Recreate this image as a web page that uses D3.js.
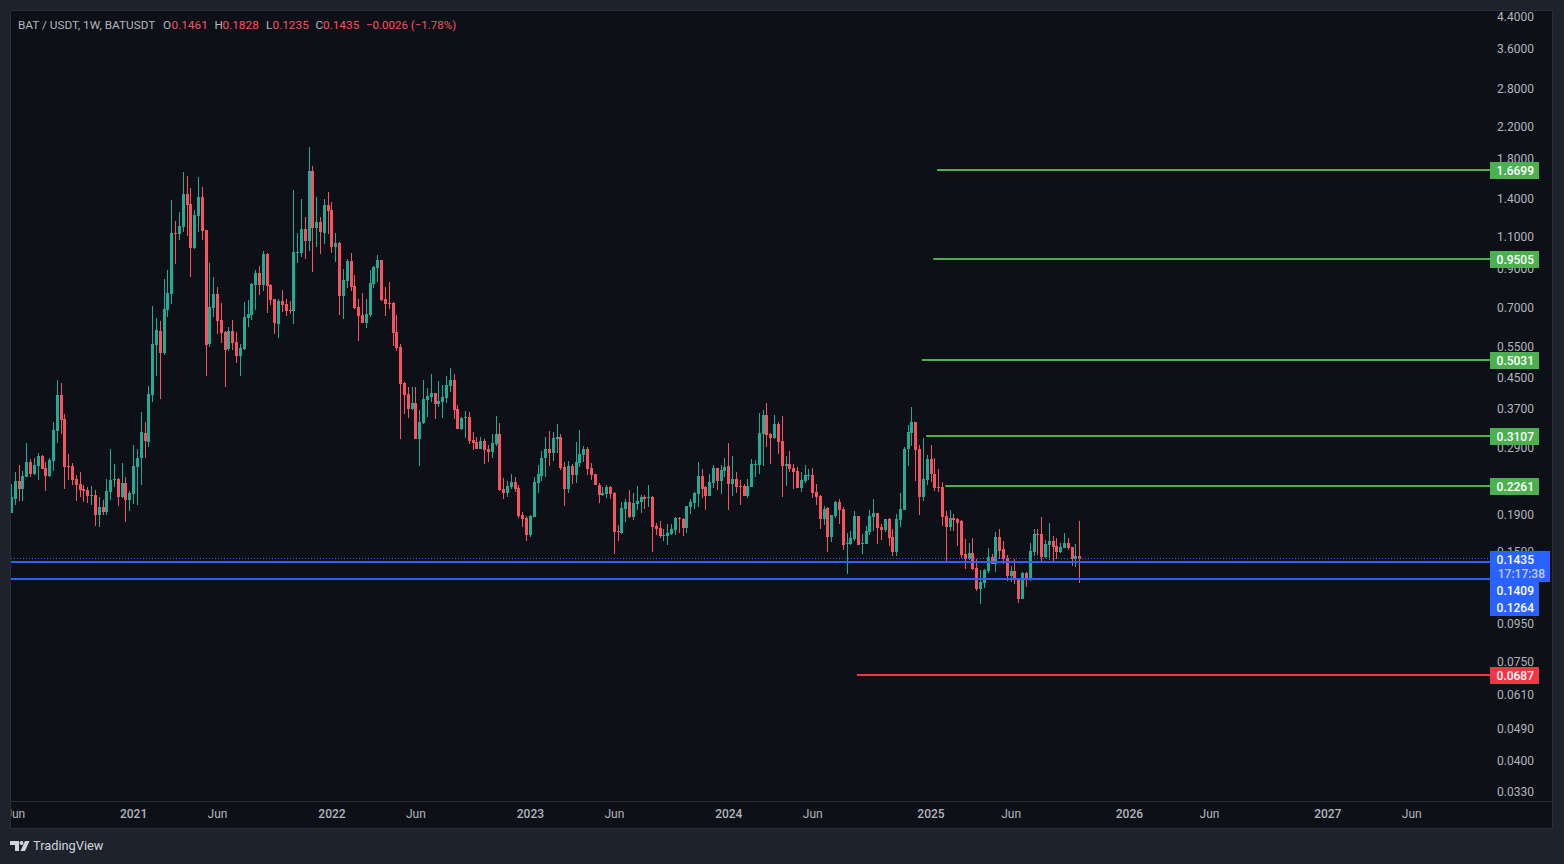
<!DOCTYPE html>
<html>
<head>
<meta charset="utf-8">
<title>BAT / USDT</title>
<script src="https://cdn.jsdelivr.net/npm/d3@7"></script>
<style>
html, body { margin: 0; padding: 0; background: #1e222d; overflow: hidden; }
text { font-family: Roboto, sans-serif; }
</style>
</head>
<body>
<svg id="chart" width="1564" height="864"></svg>
<script>
"use strict";

// Weekly candles, first bar is the week of 2020-05-25.
var first_bar = new Date(Date.UTC(2020, 4, 25));
var last_bar = new Date(Date.UTC(2025, 9, 6));

var opens = [
  .1914,.209,.234,.223,.240,.264,.2445,.2575,.274,.254,
  .2415,.266,.321,.403,.347,.2575,.2575,.237,.230,.223,
  .2214,.213,.2145,.189,.199,.1926,.2186,.2358,.237,.212,
  .231,.2078,.216,.256,.271,.317,.2997,.403,.553,.604,
  .526,.690,.764,1.122,1.115,1.165,1.435,1.347,1.020,1.249,
  1.408,1.143,.557,.699,.764,.648,.601,.539,.604,.564,
  .516,.539,.656,.669,.808,.872,.808,.983,.808,.740,
  .632,.731,.717,.690,.686,.989,.989,1.151,1.066,1.659,
  1.158,1.203,1.122,1.339,1.297,1.027,1.053,.754,.829,.940,
  .803,.703,.669,.636,.669,.813,.900,.946,.740,.721,
  .721,.601,.546,.435,.406,.369,.383,.305,.338,.391,
  .398,.408,.381,.386,.396,.427,.443,.369,.326,.349,
  .351,.3035,.2997,.288,.3016,.287,.281,.2959,.315,.223,
  .217,.2261,.2327,.224,.189,.1856,.1667,.1868,.231,.2415,
  .271,.287,.2795,.305,.3107,.256,.223,.2575,.243,.2625,
  .276,.288,.254,.2445,.2285,.2145,.216,.2261,.217,.171,
  .1688,.196,.205,.1868,.2026,.205,.212,.2105,.212,.1764,
  .174,.1656,.1656,.1677,.172,.1856,.1844,.174,.199,.204,
  .216,.2415,.2261,.213,.231,.254,.234,.2495,.2575,.230,
  .237,.227,.227,.213,.2261,.259,.259,.315,.356,.315,
  .307,.336,.3016,.2575,.261,.254,.2495,.224,.234,.2415,
  .243,.2186,.213,.1844,.1975,.1646,.188,.205,.196,.1575,
  .1575,.1625,.188,.1575,.1575,.170,.1868,.1914,.1753,.172,
  .1844,.1646,.1497,.1832,.1951,.287,.317,.340,.287,.212,
  .2358,.269,.246,.2261,.2261,.188,.1753,.1856,.1844,.182,
  .1478,.1432,.1487,.1353,.1185,.1231,.1328,.145,.1388,.1646,
  .1526,.1441,.1287,.1328,.127,.1112,.1311,.1254,.1497,.1677,
  .1677,.145,.1565,.1605,.1555,.1497,.1535,.1585,.1545,.1432,.1461
];
var highs = [
  .230,.248,.259,.2495,.2978,.269,.272,.2795,.276,.264,
  .271,.340,.443,.435,.358,.278,.2625,.243,.248,.2285,
  .2261,.227,.2214,.212,.2078,.237,.288,.261,.2385,.2625,
  .240,.220,.294,.287,.362,.340,.427,.708,.656,.644,
  .839,.888,1.382,1.210,1.281,1.649,1.608,1.491,1.297,1.598,
  1.500,1.143,.928,.850,.798,.721,.604,.620,.648,.601,
  .557,.726,.735,.818,.888,.911,1.001,.989,.813,.740,
  .740,.783,.740,.731,1.472,1.122,1.391,1.241,1.930,1.713,
  1.408,1.241,1.391,1.453,1.365,1.122,1.060,.894,.952,.989,
  .861,.740,.768,.740,.888,.911,.977,.946,.798,.824,
  .726,.669,.557,.438,.424,.424,.424,.367,.443,.421,
  .461,.408,.440,.429,.455,.479,.461,.379,.351,.365,
  .362,.319,.3107,.3107,.305,.294,.315,.353,.338,.2385,
  .234,.2445,.240,.2285,.1926,.188,.189,.240,.259,.283,
  .3107,.321,.319,.336,.315,.264,.266,.261,.2997,.323,
  .292,.290,.2625,.246,.231,.2261,.2285,.227,.2186,.1775,
  .205,.209,.2214,.217,.227,.2145,.2145,.2285,.213,.180,
  .182,.173,.1786,.1786,.1868,.1868,.1856,.200,.209,.2186,
  .264,.2525,.227,.246,.259,.254,.259,.272,.2978,.274,
  .248,.2358,.230,.237,.269,.2675,.360,.367,.383,.317,
  .356,.340,.353,.274,.283,.261,.256,.248,.259,.2525,
  .254,.230,.2145,.200,.199,.189,.2065,.209,.199,.1688,
  .171,.194,.188,.1677,.1764,.1951,.209,.1914,.1786,.1844,
  .1856,.173,.190,.217,.290,.334,.374,.340,.294,.307,
  .276,.294,.271,.2525,.2327,.194,.1951,.190,.1856,.1832,
  .1625,.1585,.1635,.1432,.1336,.1345,.1535,.1478,.170,.173,
  .1605,.1469,.137,.1432,.127,.132,.132,.1585,.173,.173,
  .1868,.1615,.180,.1656,.1635,.1585,.1688,.1635,.1545,.1575,.1828
];
var lows = [
  .1914,.201,.2065,.2065,.240,.240,.243,.2358,.2525,.220,
  .240,.2495,.2978,.315,.223,.2358,.2285,.2065,.212,.205,
  .204,.201,.1764,.1753,.189,.189,.2078,.2261,.200,.2105,
  .181,.194,.2026,.201,.2285,.271,.290,.386,.455,.393,
  .519,.660,.717,.923,1.073,1.129,1.101,.850,1.014,1.129,
  1.073,.455,.546,.660,.593,.560,.424,.533,.536,.494,
  .455,.536,.620,.648,.690,.759,.778,.677,.712,.593,
  .578,.682,.665,.673,.632,.928,.964,.952,1.001,.877,
  1.027,.983,1.046,1.115,.989,.934,.669,.652,.793,.778,
  .695,.567,.636,.616,.660,.793,.824,.731,.665,.695,
  .550,.533,.305,.358,.349,.367,.305,.2575,.336,.351,
  .386,.347,.374,.349,.383,.413,.347,.326,.323,.307,
  .2959,.285,.287,.287,.261,.264,.271,.292,.220,.209,
  .212,.223,.2186,.1856,.1753,.1605,.1646,.1868,.217,.234,
  .240,.2575,.266,.2795,.251,.200,.217,.230,.231,.256,
  .264,.243,.2358,.2285,.204,.213,.2105,.209,.1478,.1605,
  .1677,.181,.1856,.1832,.1951,.1914,.196,.199,.1497,.1667,
  .1635,.1605,.1565,.1667,.1667,.1688,.1656,.1688,.190,.196,
  .199,.2105,.1951,.213,.224,.2214,.216,.240,.1951,.213,
  .217,.201,.213,.2105,.2261,.240,.2445,.2575,.290,.261,
  .305,.278,.212,.227,.248,.223,.224,.2186,.231,.2358,
  .2105,.201,.173,.1775,.1497,.1595,.1856,.1786,.1516,.1303,
  .1565,.1605,.1565,.1478,.1575,.1667,.171,.1575,.1615,.170,
  .1555,.146,.146,.1753,.1951,.2575,.292,.234,.189,.2065,
  .2285,.2327,.220,.2186,.1764,.1414,.171,.171,.1555,.1441,
  .1345,.1423,.1336,.117,.1077,.1192,.1311,.1388,.132,.1432,
  .1388,.1246,.1239,.1223,.1084,.1112,.12,.1246,.146,.1469,
  .1414,.1441,.1423,.1414,.1432,.1487,.1535,.1516,.137,.1362,.1235
];
var closes = [
  .212,.234,.223,.2415,.264,.2445,.259,.274,.2525,.2415,
  .2675,.323,.403,.344,.256,.256,.2358,.2285,.2214,.220,
  .213,.2145,.189,.199,.1926,.220,.2358,.237,.212,.231,
  .2078,.217,.2575,.272,.319,.3016,.406,.557,.608,.526,
  .695,.768,1.122,1.115,1.173,1.435,1.339,1.020,1.257,1.408,
  1.136,.553,.703,.764,.644,.597,.536,.604,.560,.516,
  .543,.660,.673,.813,.872,.808,.983,.803,.735,.636,
  .731,.712,.686,.686,.995,.995,1.151,1.066,1.659,1.158,
  1.203,1.129,1.339,1.289,1.027,1.053,.754,.834,.940,.798,
  .699,.665,.636,.673,.818,.905,.946,.735,.717,.717,
  .597,.543,.432,.403,.369,.383,.305,.340,.393,.401,
  .408,.381,.388,.398,.429,.443,.367,.326,.349,.351,
  .3016,.2978,.288,.3016,.285,.281,.2978,.315,.2214,.217,
  .227,.2327,.223,.188,.1844,.1667,.188,.2327,.2445,.272,
  .287,.2795,.307,.3107,.254,.223,.2575,.243,.264,.278,
  .288,.2525,.243,.2285,.2145,.217,.2261,.216,.170,.170,
  .1975,.205,.1868,.204,.2065,.212,.209,.212,.1753,.173,
  .1656,.1667,.1688,.173,.1856,.1844,.174,.200,.205,.217,
  .2415,.223,.213,.2327,.254,.234,.251,.256,.230,.237,
  .2261,.2261,.213,.227,.261,.261,.317,.356,.313,.307,
  .336,.2997,.2575,.261,.2525,.248,.224,.2358,.243,.243,
  .217,.212,.1844,.196,.1646,.189,.205,.1951,.1565,.1585,
  .1635,.188,.1565,.1585,.171,.188,.1914,.174,.172,.1844,
  .1635,.1497,.1844,.196,.288,.319,.340,.285,.212,.237,
  .269,.2445,.224,.224,.1868,.1753,.1856,.1832,.180,.1469,
  .1432,.1487,.1345,.1185,.1239,.1336,.145,.1388,.1646,.1506,
  .1432,.1287,.1328,.1254,.1112,.1311,.1254,.1506,.1677,.1667,
  .145,.1575,.1605,.1545,.1497,.1545,.1585,.1535,.1432,.146,.1435
];

var price_ticks = [4.4, 3.6, 2.8, 2.2, 1.8, 1.4, 1.1, 0.9, 0.7, 0.55, 0.45, 0.37, 0.29,
                   0.19, 0.15, 0.095, 0.075, 0.061, 0.049, 0.04, 0.033];
var year_ticks = ["2021-01-04", "2022-01-03", "2023-01-02", "2024-01-01", "2025-01-06", "2026-01-05", "2027-01-04"];
var june_ticks = ["2020-06-01", "2021-06-07", "2022-06-06", "2023-06-05", "2024-06-03", "2025-06-02", "2026-06-01", "2027-06-07"];

// Horizontal rays drawn on the chart: price level and the date they start at.
var level_prices = [1.6699, 0.9505, 0.5031, 0.3107, 0.2261, 0.0687];
var level_starts = ["2025-01-18", "2025-01-11", "2024-12-21", "2024-12-29", "2025-02-02", "2024-08-24"];
var level_colors = ["#4caf50", "#4caf50", "#4caf50", "#4caf50", "#4caf50", "#f23645"];
var support_prices = [0.1409, 0.1264];
var support_labels = ["0.1409", "0.1264"];
var last_price = 0.1435;

var green = "#22ab94", red = "#f7525f", blue = "#2962ff";
var pane_left = 11, pane_right = 1552, pane_top = 11, pane_bottom = 828, axis_top = 801;

var parse_day = d3.utcParse("%Y-%m-%d");
var dates = closes.map(function(d, i) { return d3.utcMonday.offset(first_bar, i); });

var x = d3.scaleUtc().domain([first_bar, last_bar]).range([11, 1079.3]);
var y = d3.scaleLog().domain([1.6699, 0.0687]).range([170.4, 675.4]);

var svg = d3.select("#chart");

svg.append("rect").attr("width", 1564).attr("height", 864).attr("fill", "#1e222d");
svg.append("rect")
    .attr("x", pane_left - 0.5).attr("y", pane_top - 0.5)
    .attr("width", pane_right - pane_left + 1).attr("height", pane_bottom - pane_top + 1)
    .attr("fill", "#0d1017").attr("stroke", "#2a2e39");
svg.append("line")
    .attr("x1", pane_left).attr("x2", pane_right)
    .attr("y1", axis_top + 0.5).attr("y2", axis_top + 0.5)
    .attr("stroke", "#2a2e39");

var defs = svg.append("defs");
defs.append("clipPath").attr("id", "pane-clip").append("rect")
    .attr("x", pane_left).attr("y", pane_top)
    .attr("width", pane_right - pane_left).attr("height", pane_bottom - pane_top);

// Axes first, the price labels sit on top of them.
var right_axis = d3.axisRight(y)
    .tickValues(price_ticks)
    .tickFormat(d3.format(".4f"))
    .tickSize(0).tickPadding(0);
var axis_r = svg.append("g").attr("transform", "translate(1534,0)").call(right_axis);
axis_r.select(".domain").remove();
axis_r.selectAll("text")
    .attr("text-anchor", "end")
    .attr("fill", "#b2b5be")
    .style("font-size", "12px");

var month_format = d3.utcFormat("%b"), year_format = d3.utcFormat("%Y");
var time_ticks = year_ticks.concat(june_ticks).map(parse_day);
var bottom_axis = d3.axisBottom(x)
    .tickValues(time_ticks)
    .tickFormat(function(d) { return d.getUTCMonth() === 0 ? year_format(d) : month_format(d); })
    .tickSize(0).tickPadding(8);
var axis_b = svg.append("g")
    .attr("clip-path", "url(#pane-clip)")
    .append("g")
    .attr("transform", "translate(0," + axis_top + ")")
    .call(bottom_axis);
axis_b.select(".domain").remove();
axis_b.selectAll("text")
    .attr("fill", "#b2b5be")
    .style("font-size", "12px");
axis_b.selectAll(".tick")
    .filter(function(d) { return d.getUTCMonth() === 0; })
    .select("text")
    .style("font-weight", "500");

// Candles.
var candles = svg.append("g").attr("clip-path", "url(#pane-clip)").attr("shape-rendering", "crispEdges");
var candle = candles.selectAll("g").data(dates).join("g");
function candle_color(i) { return closes[i] < opens[i] ? red : green; }
candle.append("rect")
    .attr("x", function(d) { return Math.round(x(d)); })
    .attr("width", 1)
    .attr("y", function(d, i) { return y(highs[i]); })
    .attr("height", function(d, i) { return y(lows[i]) - y(highs[i]); })
    .attr("fill", function(d, i) { return candle_color(i); });
candle.append("rect")
    .attr("x", function(d) { return Math.round(x(d)) - 1; })
    .attr("width", 3)
    .attr("y", function(d, i) { return y(Math.max(opens[i], closes[i])); })
    .attr("height", function(d, i) { return Math.max(1, Math.abs(y(opens[i]) - y(closes[i]))); })
    .attr("fill", function(d, i) { return candle_color(i); });

// Last price line, support lines and the rays. Snapped to whole pixels so the
// 2px lines stay sharp.
var label_left = 1490;
function snap_y(p) { return Math.floor(y(p)); }
svg.append("line")
    .attr("x1", pane_left).attr("x2", label_left)
    .attr("y1", snap_y(last_price) + 0.5).attr("y2", snap_y(last_price) + 0.5)
    .attr("stroke", blue).attr("stroke-dasharray", "1 2").attr("stroke-width", 1);
svg.selectAll(".support").data(support_prices).join("line")
    .attr("class", "support")
    .attr("x1", pane_left).attr("x2", label_left)
    .attr("y1", function(d) { return Math.round(y(d)); }).attr("y2", function(d) { return Math.round(y(d)); })
    .attr("stroke", blue).attr("stroke-width", 2);
svg.selectAll(".level").data(level_prices).join("line")
    .attr("class", "level")
    .attr("x1", function(d, i) { return x(parse_day(level_starts[i])); })
    .attr("x2", label_left)
    .attr("y1", function(d) { return snap_y(d); }).attr("y2", function(d) { return snap_y(d); })
    .attr("stroke", function(d, i) { return level_colors[i]; }).attr("stroke-width", 2);

// Price labels on the axis.
function price_label(y_mid, w, h, color) {
    svg.append("rect")
        .attr("x", label_left).attr("y", y_mid - h / 2)
        .attr("width", w).attr("height", h)
        .attr("fill", color);
}
function label_text(txt, y_mid, color) {
    svg.append("text")
        .attr("x", 1534).attr("y", y_mid).attr("dy", ".35em")
        .attr("text-anchor", "end")
        .attr("fill", color)
        .style("font-size", "12px").style("font-weight", "500")
        .text(txt);
}
level_prices.forEach(function(p, i) {
    price_label(snap_y(p) + 0.5, 49, 17, level_colors[i]);
    label_text(p.toFixed(4), snap_y(p) + 0.5, "#ffffff");
});

// The two support labels are pushed below the countdown box.
price_label(590.5, 49, 17, blue);
price_label(607.5, 49, 17, blue);
price_label(566.5, 60, 31, blue);
label_text(support_labels[0], 590.5, "#ffffff");
label_text(support_labels[1], 607.5, "#ffffff");
label_text(last_price.toFixed(4), 560, "#ffffff");
svg.append("text")
    .attr("x", 1545).attr("y", 574).attr("dy", ".35em")
    .attr("text-anchor", "end")
    .attr("fill", "#c3cffb")
    .style("font-size", "12px").style("font-weight", "500")
    .text("17:17:38");

// Legend line.
var legend_y = 25;
function legend(txt, left, color, size) {
    svg.append("text")
        .attr("x", left).attr("y", legend_y).attr("dy", ".35em")
        .attr("fill", color)
        .style("font-size", size || "11.8px")
        .text(txt);
}
legend("BAT / USDT, 1W, BATUSDT", 18, "#b2b5be");
legend("O", 163, "#b2b5be");
legend("0.1461", 171.5, red);
legend("H", 214.5, "#b2b5be");
legend("0.1828", 222.5, red);
legend("L", 266, "#b2b5be");
legend("0.1235", 272.5, red);
legend("C", 315.5, "#b2b5be");
legend("0.1435", 323, red);
legend("\u22120.0026 (\u22121.78%)", 366, red, "11.5px");

// TradingView mark.
var logo = svg.append("g").attr("fill", "#d1d4dc");
logo.append("path").attr("d", "M10 841H19V851H15V845H10Z");
logo.append("circle").attr("cx", 21.5).attr("cy", 843).attr("r", 2);
logo.append("path").attr("d", "M29.5 841L25 851H20.5L25 841Z");
svg.append("text")
    .attr("x", 33).attr("y", 846).attr("dy", ".35em")
    .attr("fill", "#d1d4dc")
    .style("font-size", "12.8px")
    .text("TradingView");
</script>
</body>
</html>
